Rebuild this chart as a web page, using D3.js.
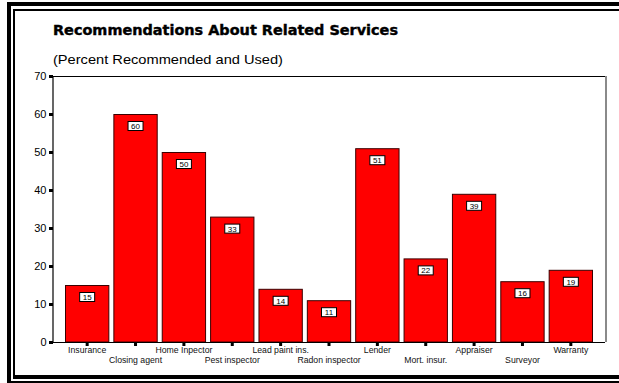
<!DOCTYPE html>
<html>
<head>
<meta charset="utf-8">
<script src="https://cdn.jsdelivr.net/npm/d3@7"></script>
<style>
  html, body { margin: 0; padding: 0; background: #fff; }
  svg { display: block; }
</style>
</head>
<body>
<svg id="chart" width="619" height="383"></svg>
<script>
// Related services and the share of respondents who were recommended and used each one
const services = ["Insurance", "Closing agent", "Home Inpector", "Pest inspector", "Lead paint ins.",
  "Radon inspector", "Lender", "Mort. insur.", "Appraiser", "Surveyor", "Warranty"];
const percentUsed = [15, 60, 50, 33, 14, 11, 51, 22, 39, 16, 19];
const yTicks = [0, 10, 20, 30, 40, 50, 60, 70];

const svg = d3.select("#chart");
const W = 619, H = 383;
const plotLeft = 52, plotRight = 605, plotTop = 76, plotBottom = 342;

// Double frame around the whole figure
const frame = svg.append("g");
frame.append("rect").attr("x", 7).attr("y", 2).attr("width", W).attr("height", 4).attr("fill", "#000");
frame.append("rect").attr("x", 7).attr("y", 2).attr("width", 4).attr("height", 381).attr("fill", "#000");
frame.append("rect").attr("x", 13).attr("y", 9).attr("width", W).attr("height", 2).attr("fill", "#000");
frame.append("rect").attr("x", 13).attr("y", 9).attr("width", 2).attr("height", 370).attr("fill", "#000");
frame.append("rect").attr("x", 13).attr("y", 375).attr("width", W).attr("height", 4).attr("fill", "#000");
frame.append("rect").attr("x", 7).attr("y", 381).attr("width", W).attr("height", 2).attr("fill", "#000");

// Titles
svg.append("text").attr("x", 53).attr("y", 34.5)
  .attr("font-family", "DejaVu Sans, Arial, sans-serif").attr("font-weight", "bold")
  .attr("font-size", 13.5).attr("textLength", 345).attr("lengthAdjust", "spacingAndGlyphs")
  .attr("stroke", "#000").attr("stroke-width", 0.4)
  .attr("fill", "#000").text("Recommendations About Related Services");
svg.append("text").attr("x", 53).attr("y", 64)
  .attr("font-family", "Liberation Sans, Arial, sans-serif")
  .attr("font-size", 13).attr("textLength", 230).attr("lengthAdjust", "spacingAndGlyphs")
  .attr("fill", "#000").text("(Percent Recommended and Used)");

// Scales
const x = d3.scaleBand().domain(services).range([65, 593]).paddingInner(4 / 48).paddingOuter(0);
const y = d3.scaleLinear().domain([0, 70]).range([plotBottom, plotTop]);

// Plot frame: top rule and shaded right edge
svg.append("line").attr("x1", plotLeft).attr("x2", plotRight).attr("y1", plotTop + 0.5).attr("y2", plotTop + 0.5)
  .attr("stroke", "#000").attr("stroke-width", 1);
svg.append("rect").attr("x", plotRight).attr("y", plotTop).attr("width", 2).attr("height", plotBottom - plotTop)
  .attr("fill", "#8a8a8a");

// Bars
svg.append("g").selectAll("rect").data(percentUsed).join("rect")
  .attr("x", (d, i) => x(services[i]) + 0.5)
  .attr("y", d => y(d) + 0.5)
  .attr("width", x.bandwidth() - 1)
  .attr("height", d => plotBottom - y(d) - 0.5)
  .attr("fill", "#ff0000").attr("stroke", "#3a0000").attr("stroke-width", 1);

// Value labels in small boxed tags
const tags = svg.append("g").selectAll("g").data(percentUsed).join("g")
  .attr("transform", (d, i) => `translate(${x(services[i]) + x.bandwidth() / 2},${y(d) + 7})`);
tags.append("rect").attr("x", -7.5).attr("y", 0.5).attr("width", 15).attr("height", 9)
  .attr("fill", "#fff").attr("stroke", "#000").attr("stroke-width", 1);
tags.append("text").attr("x", 0).attr("y", 8).attr("text-anchor", "middle")
  .attr("font-family", "Liberation Sans, Arial, sans-serif").attr("font-size", 8)
  .attr("fill", "#000").text(d => d);

// Y axis
const yAxis = d3.axisLeft(y).tickValues(yTicks).tickSize(0).tickPadding(6);
const gy = svg.append("g").attr("transform", `translate(${plotLeft + 0.5},0)`).call(yAxis);
gy.select(".domain").attr("stroke", "#000").attr("stroke-width", 1.2);
gy.selectAll(".tick text").attr("font-family", "Liberation Sans, Arial, sans-serif")
  .attr("font-size", 11).attr("fill", "#000");
gy.selectAll(".tick").append("rect").attr("x", -3.5).attr("y", -1.5).attr("width", 4).attr("height", 3).attr("fill", "#000");

// X axis with staggered labels
const xAxis = d3.axisBottom(x).tickSize(0).tickPadding(0);
const gx = svg.append("g").attr("transform", `translate(0,${plotBottom})`).call(xAxis);
gx.select(".domain").remove();
gx.append("line").attr("x1", plotLeft - 2).attr("x2", plotRight).attr("y1", 0.5).attr("y2", 0.5)
  .attr("stroke", "#000").attr("stroke-width", 1.2);
gx.selectAll(".tick").append("rect").attr("x", -1.5).attr("y", 0).attr("width", 3).attr("height", 4).attr("fill", "#000");
gx.selectAll(".tick text")
  .attr("font-family", "Liberation Sans, Arial, sans-serif").attr("font-size", 8.7)
  .attr("fill", "#111").attr("dy", null)
  .attr("y", (d, i) => i % 2 === 0 ? 11 : 21);
</script>
</body>
</html>
